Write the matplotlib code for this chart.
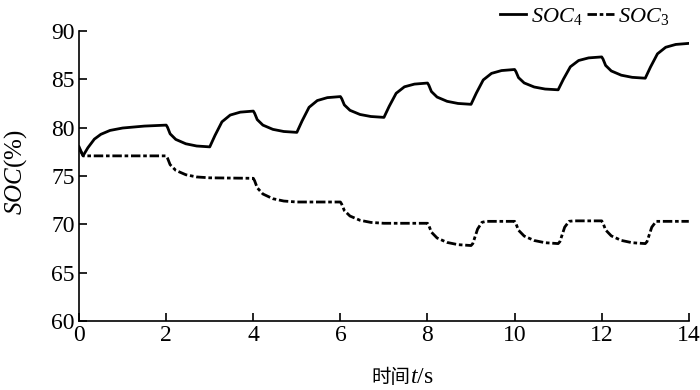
import matplotlib
matplotlib.use("Agg")
import matplotlib.pyplot as plt

plt.rcParams['font.family'] = ['Liberation Serif', 'Noto Sans CJK SC']
plt.rcParams['mathtext.fontset'] = 'custom'
plt.rcParams['mathtext.rm'] = 'Liberation Serif'
plt.rcParams['mathtext.it'] = 'Liberation Serif:italic'

# SOC4 (solid)
t4 = [0, 0.09, 0.2, 0.35, 0.5, 0.71, 1.0, 1.5, 2.0,
      2.03, 2.09, 2.22, 2.45, 2.7, 3.0,
      3.12, 3.28, 3.47, 3.7, 4.0,
      4.03, 4.09, 4.22, 4.45, 4.7, 5.0,
      5.12, 5.28, 5.47, 5.7, 6.0,
      6.03, 6.09, 6.22, 6.45, 6.7, 7.0,
      7.12, 7.28, 7.47, 7.7, 8.0,
      8.03, 8.09, 8.22, 8.45, 8.7, 9.0,
      9.12, 9.28, 9.47, 9.7, 10.0,
      10.03, 10.09, 10.22, 10.45, 10.7, 11.0,
      11.12, 11.28, 11.47, 11.7, 12.0,
      12.03, 12.09, 12.22, 12.45, 12.7, 13.0,
      13.12, 13.28, 13.47, 13.7, 14.0]
soc4 = [78.0, 77.07, 77.9, 78.8, 79.3, 79.7, 79.95, 80.15, 80.25,
        80.03, 79.35, 78.77, 78.32, 78.09, 78.0,
        79.18, 80.59, 81.29, 81.59, 81.7,
        81.48, 80.82, 80.25, 79.81, 79.59, 79.5,
        80.68, 82.09, 82.79, 83.09, 83.2,
        82.99, 82.34, 81.78, 81.35, 81.14, 81.05,
        82.19, 83.54, 84.21, 84.49, 84.6,
        84.38, 83.72, 83.15, 82.71, 82.49, 82.4,
        83.55, 84.92, 85.6, 85.89, 86.0,
        85.79, 85.16, 84.61, 84.19, 83.98, 83.9,
        84.99, 86.28, 86.93, 87.2, 87.3,
        87.08, 86.42, 85.85, 85.41, 85.19, 85.1,
        86.25, 87.62, 88.3, 88.59, 88.7]

# SOC3 (dash-dot)
t3 = [0, 0.1, 2.0,
      2.03, 2.09, 2.22, 2.45, 2.7, 3.0, 4.0,
      4.03, 4.09, 4.22, 4.45, 4.7, 5.0, 6.0,
      6.03, 6.09, 6.22, 6.45, 6.7, 7.0, 8.0,
      8.03, 8.09, 8.22, 8.45, 8.7, 9.0,
      9.04, 9.15, 9.25, 9.35, 10.0,
      10.03, 10.09, 10.22, 10.45, 10.7, 11.0,
      11.04, 11.15, 11.25, 11.35, 12.0,
      12.03, 12.09, 12.22, 12.45, 12.7, 13.0,
      13.04, 13.15, 13.25, 13.35, 14.0]
soc3 = [77.8, 77.07, 77.07,
        76.84, 76.16, 75.57, 75.12, 74.89, 74.8, 74.75,
        74.5, 73.77, 73.13, 72.64, 72.4, 72.3, 72.3,
        72.08, 71.42, 70.85, 70.41, 70.19, 70.1, 70.1,
        69.87, 69.18, 68.58, 68.12, 67.89, 67.8,
        68.0, 69.5, 70.2, 70.3, 70.3,
        70.07, 69.38, 68.78, 68.32, 68.09, 68.0,
        68.2, 69.7, 70.3, 70.35, 70.35,
        70.12, 69.41, 68.8, 68.33, 68.09, 68.0,
        68.2, 69.7, 70.3, 70.3, 70.3]

xticks = [0, 2, 4, 6, 8, 10, 12, 14]
yticks = [60, 65, 70, 75, 80, 85, 90]

fig = plt.figure(figsize=(7, 3.9), dpi=100)
ax = fig.add_axes([0.113, 0.177, 0.871, 0.744])

l4, = ax.plot(t4, soc4, color='black', lw=2.0, label='$SOC_4$')
l3, = ax.plot(t3, soc3, color='black', lw=2.0, linestyle=(0, (3.4, 1.0, 1.3, 1.0)),
              label='$SOC_3$')

ax.set_xlim(0, 14)
ax.set_ylim(60, 90)
ax.set_xticks(xticks)
ax.set_yticks(yticks)
ax.spines['top'].set_visible(False)
ax.spines['right'].set_visible(False)
for s in ('left', 'bottom'):
    ax.spines[s].set_linewidth(1.2)
ax.tick_params(direction='in', length=6, width=1.2, labelsize=17, pad=3)

# x label: CJK part and serif part as separate texts
xb = 410 / 700
yb = 1 - 383 / 390
fig.text(xb, yb, '时间', ha='right', va='baseline', fontsize=14,
         family=['Noto Sans CJK SC'])
fig.text(xb, yb, r'$t/\mathrm{s}$', ha='left', va='baseline', fontsize=17)

# y label
fig.text(16 / 700, 1 - 172 / 390, r'$SOC\mathrm{(\%)}$', rotation=90, ha='center',
         va='center', fontsize=18)

fig.legend(handles=[l4, l3], loc='upper right', bbox_to_anchor=(0.975, 1.02), ncol=2,
           frameon=False, fontsize=16, handlelength=1.2, handletextpad=0.2,
           columnspacing=0.2, borderaxespad=0.2)

fig.savefig('out.png', dpi=100)
